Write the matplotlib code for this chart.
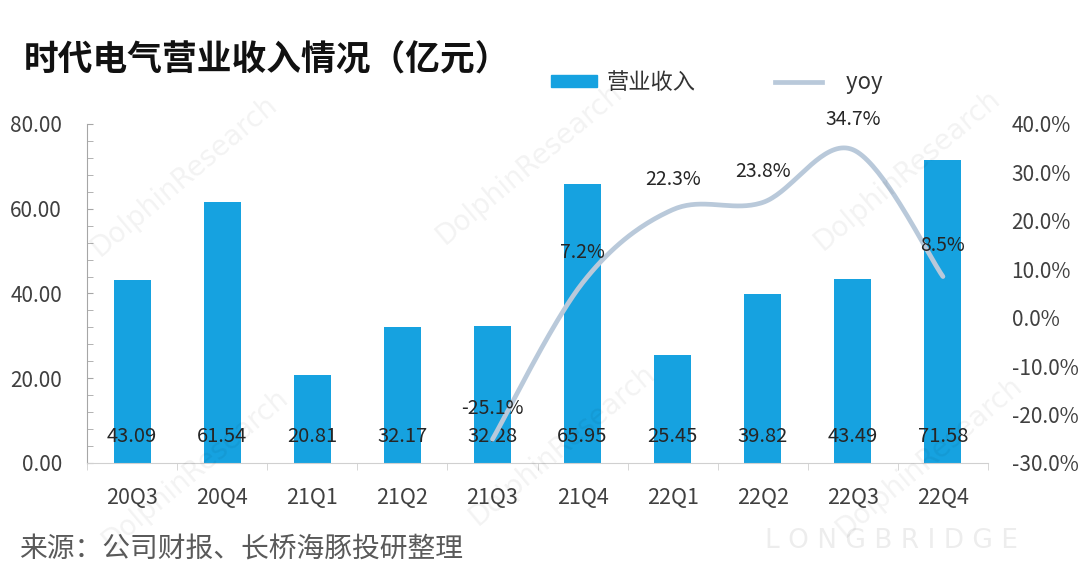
import numpy as np
import matplotlib
matplotlib.use("Agg")
import matplotlib.pyplot as plt
from matplotlib.ticker import MultipleLocator, FuncFormatter
from matplotlib.lines import Line2D
from matplotlib.patches import Patch

plt.rcParams['font.family'] = ['Noto Sans CJK SC', 'DejaVu Sans']

quarters = ['20Q3', '20Q4', '21Q1', '21Q2', '21Q3', '21Q4', '22Q1', '22Q2', '22Q3', '22Q4']
revenue = [43.09, 61.54, 20.81, 32.17, 32.28, 65.95, 25.45, 39.82, 43.49, 71.58]
yoy = [np.nan, np.nan, np.nan, np.nan, -25.1, 7.2, 22.3, 23.8, 34.7, 8.5]

bar_color = '#16a2e0'
line_color = '#b9c9da'
axis_gray = '#a6a6a6'
text_dark = '#262626'


def smooth(xs, ys, n=40):
    # excel-style smoothed line: bezier segments with catmull-rom control points
    pts = np.column_stack([xs, ys])
    out = []
    for i in range(len(pts) - 1):
        p0 = pts[i - 1] if i > 0 else pts[i]
        p1 = pts[i]
        p2 = pts[i + 1]
        p3 = pts[i + 2] if i + 2 < len(pts) else pts[i + 1]
        c1 = p1 + (p2 - p0) / 6
        c2 = p2 - (p3 - p1) / 6
        t = np.linspace(0, 1, n)[:, None]
        seg = (1 - t) ** 3 * p1 + 3 * (1 - t) ** 2 * t * c1 + 3 * (1 - t) * t ** 2 * c2 + t ** 3 * p2
        out.append(seg if i == 0 else seg[1:])
    out = np.vstack(out)
    return out[:, 0], out[:, 1]


fig = plt.figure(figsize=(10.8, 5.86), dpi=100)
ax = fig.add_axes([0.0806, 0.2099, 0.8342, 0.5785])
ax2 = ax.twinx()

x = np.arange(len(quarters))
bars = ax.bar(x, revenue, width=0.41, color=bar_color, zorder=2)
ax.set_xlim(-0.5, len(quarters) - 0.5)
ax.set_ylim(0, 80)

for xi, v in zip(x, revenue):
    ax.text(xi, 6.2, f'{v:.2f}', ha='center', va='center', fontsize=14.5, color=text_dark, zorder=5)

# left axis
ax.yaxis.set_major_locator(MultipleLocator(20))
ax.yaxis.set_minor_locator(MultipleLocator(4))
ax.yaxis.set_major_formatter(FuncFormatter(lambda v, p: f'{v:.2f}'))
ax.tick_params(axis='y', which='both', direction='in', length=4, color=axis_gray, labelsize=15,
               labelcolor='#404040', pad=18)

# bottom axis: ticks at category boundaries
ax.set_xticks(x)
ax.set_xticklabels(quarters)
ax.set_xticks(np.arange(-0.5, len(quarters), 1), minor=True)
ax.tick_params(axis='x', which='major', length=0, labelsize=15.5, labelcolor='#404040', pad=17)
ax.tick_params(axis='x', which='minor', direction='out', length=5, color='#d0d0d0')

for s in ['top', 'right']:
    ax.spines[s].set_visible(False)
ax.spines['left'].set_color(axis_gray)
ax.spines['bottom'].set_color('#d0d0d0')
for s in ax2.spines.values():
    s.set_visible(False)

# right axis + yoy line (drawn over the bars)
ax2.set_ylim(-30, 40)
ax2.yaxis.set_major_locator(MultipleLocator(10))
ax2.yaxis.set_major_formatter(FuncFormatter(lambda v, p: f'{v:.1f}%'))
ax2.tick_params(axis='y', length=0, labelsize=15, labelcolor='#404040', pad=17)

yv = np.array(yoy)
ok = ~np.isnan(yv)
sx, sy = smooth(x[ok].astype(float), yv[ok])
ax2.plot(sx, sy, color=line_color, lw=3.4, solid_capstyle='round', zorder=3)
for xi, v in zip(x[ok], yv[ok]):
    ax2.annotate(f'{v:.1f}%', (xi, v), xytext=(0, 22), textcoords='offset points',
                 ha='center', va='center', fontsize=14, color=text_dark, zorder=6)

# title, legend, source
fig.text(0.022, 0.897, '时代电气营业收入情况（亿元）', fontsize=25, fontweight='bold',
         color='#111111', ha='left', va='center')
handles = [Patch(color=bar_color), Line2D([], [], color=line_color, lw=3.4)]
fig.legend(handles, ['营业收入', '   yoy'], loc='center left', bbox_to_anchor=(0.510, 0.860),
           ncol=2, frameon=False, fontsize=16, handlelength=2.1, handleheight=0.45,
           handletextpad=0.4, columnspacing=3.6, borderpad=0, borderaxespad=0,
           labelcolor='#333333')
fig.text(0.018, 0.064, '来源：公司财报、长桥海豚投研整理', fontsize=20, color='#5a5a5a',
         ha='left', va='center')

# faint watermarks
for wx, wy in [(0.17, 0.70), (0.49, 0.72), (0.84, 0.71), (0.52, 0.24), (0.18, 0.20), (0.86, 0.22)]:
    fig.text(wx, wy, 'DolphinResearch', fontsize=20, color='#000000', alpha=0.05, rotation=40,
             ha='center', va='center', family='DejaVu Sans')
fig.text(0.825, 0.076, 'L O N G B R I D G E', fontsize=19, color='#000000', alpha=0.07,
         ha='center', va='center', family='DejaVu Sans')

fig.savefig('out.png', dpi=100, facecolor='white')
